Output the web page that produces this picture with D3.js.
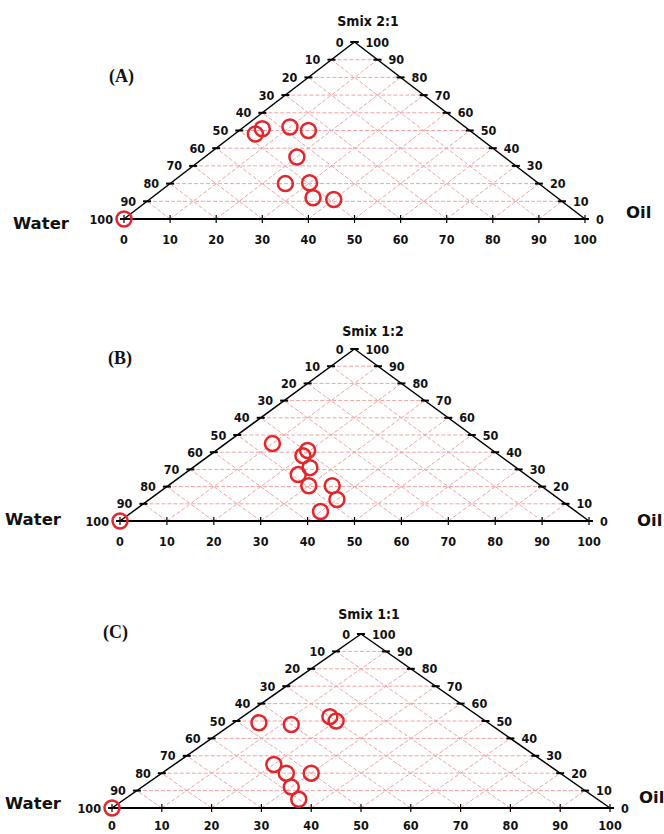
<!DOCTYPE html>
<html>
<head>
<meta charset="utf-8">
<script src="https://cdn.jsdelivr.net/npm/d3@7"></script>
<style>
  body { margin: 0; background: #fff; }
  svg text { font-family: "DejaVu Sans", Verdana, sans-serif; font-weight: bold; fill: #111; }
  svg text.tick, svg text.title { font-family: "DejaVu Sans Condensed", "DejaVu Sans", sans-serif; font-stretch: condensed; }
  .panel-tag { font-family: "Liberation Serif", "Times New Roman", serif; }
</style>
</head>
<body>
<svg id="chart" width="664" height="834"></svg>
<script>
const panelTags = ['(A)', '(B)', '(C)'];
const titles = ['Smix 2:1', 'Smix 1:2', 'Smix 1:1'];
const tickValues = [0, 10, 20, 30, 40, 50, 60, 70, 80, 90, 100];
const cornerLabels = ['Water', 'Oil'];

// compositions (%), water = 100 - oil - smix
const oilA = [0, 4.5, 4.5, 10, 15, 20, 25, 30, 35, 40];
const smixA = [0, 51, 48, 52, 50, 35, 20, 20.5, 12, 11];
const oilB = [0, 10, 19.5, 20, 25, 24.5, 30, 35, 40, 40];
const smixB = [0, 45, 41, 38, 31, 27, 20.5, 20.5, 12.5, 5.5];
const oilC = [0, 5, 12, 17.5, 20, 20, 25, 30, 30, 35];
const smixC = [0, 49, 48, 52.5, 50, 25, 20, 20, 12, 5];

const layouts = [
  { x0: 124, x1: 585, base: 219, apex: 42, titleX: 368, titleY: 26, tagX: 109, tagY: 82, waterX: 13, waterY: 223, oilX: 626, oilY: 212, bottomGap: 25 },
  { x0: 120, x1: 589, base: 521, apex: 349, titleX: 373, titleY: 336, tagX: 108, tagY: 364, waterX: 5, waterY: 519, oilX: 637, oilY: 520, bottomGap: 25 },
  { x0: 112, x1: 610, base: 808, apex: 634, titleX: 369, titleY: 619, tagX: 103, tagY: 638, waterX: 5, waterY: 803, oilX: 639, oilY: 797, bottomGap: 22 }
];

const oilSeries = [oilA, oilB, oilC];
const smixSeries = [smixA, smixB, smixC];

const svg = d3.select('#chart');
const gridColor = '#f2a2a2';
const markColor = '#e3262b';

const drawPanel = (i) => {
  const L = layouts[i];
  const g = svg.append('g');
  const xScale = d3.scaleLinear().domain([0, 100]).range([L.x0, L.x1]);
  const yScale = d3.scaleLinear().domain([0, 100]).range([L.base, L.apex]);
  // ternary (oil, smix) -> screen
  const px = (oil, smix) => xScale(oil + smix / 2);
  const py = smix => yScale(smix);

  const inner = tickValues.slice(1, -1);
  const grid = g.append('g')
    .attr('stroke', gridColor)
    .attr('stroke-width', 1)
    .attr('stroke-dasharray', '4,2')
    .attr('fill', 'none');
  // horizontal lines (constant smix)
  grid.selectAll('.h').data(inner).join('line')
    .attr('x1', v => px(0, v)).attr('y1', v => py(v))
    .attr('x2', v => px(100 - v, v)).attr('y2', v => py(v));
  // lines of constant oil (parallel to left edge)
  grid.selectAll('.o').data(inner).join('line')
    .attr('x1', v => px(v, 0)).attr('y1', py(0))
    .attr('x2', v => px(v, 100 - v)).attr('y2', v => py(100 - v));
  // lines of constant water (parallel to right edge)
  grid.selectAll('.w').data(inner).join('line')
    .attr('x1', v => px(v, 0)).attr('y1', py(0))
    .attr('x2', v => px(0, v)).attr('y2', v => py(v));

  // triangle edges
  g.append('line')
    .attr('x1', px(0, 0)).attr('y1', py(0)).attr('x2', px(100, 0)).attr('y2', py(0))
    .attr('stroke', '#000').attr('stroke-width', 2);
  g.append('line')
    .attr('x1', px(0, 0)).attr('y1', py(0)).attr('x2', px(0, 100)).attr('y2', py(100))
    .attr('stroke', '#000').attr('stroke-width', 1.5);
  g.append('line')
    .attr('x1', px(100, 0)).attr('y1', py(0)).attr('x2', px(0, 100)).attr('y2', py(100))
    .attr('stroke', '#000').attr('stroke-width', 1.5);

  // bottom ticks
  g.selectAll('.bt').data(tickValues).join('line')
    .attr('x1', v => xScale(v)).attr('x2', v => xScale(v))
    .attr('y1', py(0) - 4).attr('y2', py(0) + 4)
    .attr('stroke', '#000').attr('stroke-width', 1.2);
  // side ticks (short horizontal dashes)
  g.selectAll('.lt').data(tickValues).join('line')
    .attr('x1', v => px(0, v) - 4).attr('x2', v => px(0, v) + 4)
    .attr('y1', v => py(v)).attr('y2', v => py(v))
    .attr('stroke', '#000').attr('stroke-width', 2);
  g.selectAll('.rt').data(tickValues).join('line')
    .attr('x1', v => px(100 - v, v) - 4).attr('x2', v => px(100 - v, v) + 4)
    .attr('y1', v => py(v)).attr('y2', v => py(v))
    .attr('stroke', '#000').attr('stroke-width', 2);

  // labels
  const fs = 12.5;
  g.selectAll('.bl').data(tickValues).join('text')
    .attr('class', 'tick')
    .attr('x', v => xScale(v)).attr('y', py(0) + L.bottomGap)
    .attr('text-anchor', 'middle').attr('font-size', fs)
    .text(v => v);
  g.selectAll('.ll').data(tickValues).join('text')
    .attr('class', 'tick')
    .attr('x', v => px(0, v) - 11).attr('y', v => py(v) + 4.5)
    .attr('text-anchor', 'end').attr('font-size', fs)
    .text(v => 100 - v);
  g.selectAll('.rl').data(tickValues).join('text')
    .attr('class', 'tick')
    .attr('x', v => px(100 - v, v) + 11).attr('y', v => py(v) + 4.5)
    .attr('text-anchor', 'start').attr('font-size', fs)
    .text(v => v);

  g.append('text').attr('class', 'title').attr('x', L.titleX).attr('y', L.titleY)
    .attr('text-anchor', 'middle').attr('font-size', 14).text(titles[i]);
  g.append('text').attr('class', 'panel-tag').attr('x', L.tagX).attr('y', L.tagY)
    .attr('font-size', 18).text(panelTags[i]);
  g.append('text').attr('x', L.waterX).attr('y', L.waterY + 6)
    .attr('font-size', 16.5).text(cornerLabels[0]);
  g.append('text').attr('x', L.oilX).attr('y', L.oilY + 6)
    .attr('font-size', 16.5).text(cornerLabels[1]);

  // data markers
  const pts = oilSeries[i].map((o, k) => ({ oil: o, smix: smixSeries[i][k] }));
  g.selectAll('.pt').data(pts).join('circle')
    .attr('cx', d => px(d.oil, d.smix)).attr('cy', d => py(d.smix))
    .attr('r', 7.5)
    .attr('fill', 'none').attr('stroke', markColor).attr('stroke-width', 2.5);
};

layouts.forEach((_, i) => drawPanel(i));
</script>
</body>
</html>
